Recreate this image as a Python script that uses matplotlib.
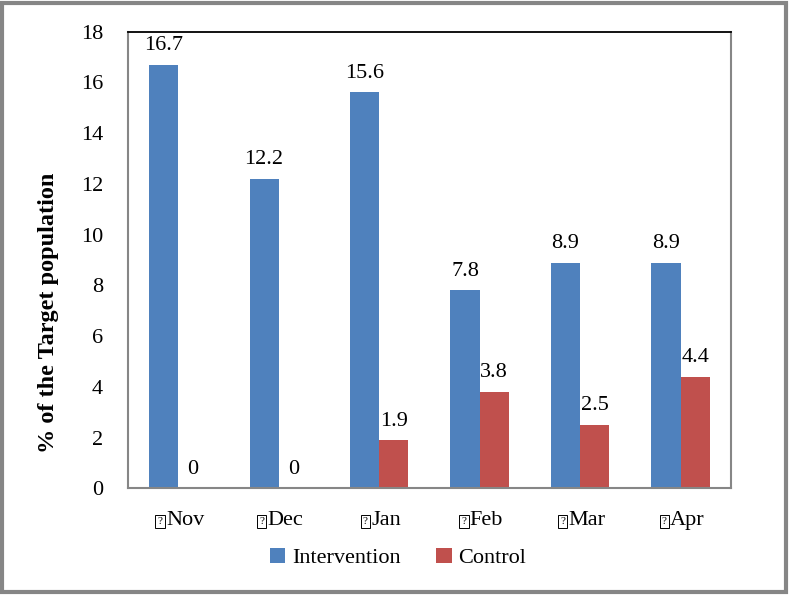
import matplotlib.pyplot as plt
import numpy as np
from matplotlib.patches import Rectangle

months = ["Nov", "Dec", "Jan", "Feb", "Mar", "Apr"]
intervention = [16.7, 12.2, 15.6, 7.8, 8.9, 8.9]
control = [0, 0, 1.9, 3.8, 2.5, 4.4]
y_ticks = [0, 2, 4, 6, 8, 10, 12, 14, 16, 18]

BLUE = "#4f81bd"
RED = "#c0504d"
GREY = "#868686"

plt.rcParams["font.family"] = ["Liberation Serif", "DejaVu Sans"]

fig = plt.figure(figsize=(7.9, 5.95), dpi=100)
ax = fig.add_axes([0.162, 0.179, 0.763, 0.768])

x = np.arange(len(months))
width = 0.29

ax.bar(x - width / 2, intervention, width, color=BLUE, label="Intervention")
ax.bar(x + width / 2, control, width, color=RED, label="Control")

# value labels above the bars
for xs, vals in [(x - width / 2, intervention), (x + width / 2, control)]:
    for xi, v in zip(xs, vals):
        ax.annotate(f"{v:g}", xy=(xi, v), xytext=(0, 7),
                    textcoords="offset points", ha="center", va="bottom",
                    fontsize=16)

ax.set_xlim(-0.5, len(months) - 0.5)
ax.set_ylim(0, 18)
ax.set_yticks(y_ticks)
ax.set_yticklabels([str(t) for t in y_ticks], fontsize=16)
ax.set_xticks(x)
ax.set_xticklabels([])
ax.tick_params(length=0)
ax.tick_params(axis="y", pad=18)

# month labels, each preceded by the missing-glyph box seen in the original
for xi, m in zip(x, months):
    lab = ax.annotate(m, xy=(xi, 0), xycoords=ax.get_xaxis_transform(),
                      xytext=(5, -23), textcoords="offset points",
                      ha="center", va="center", fontsize=16)
    ax.annotate("?", xy=(0, 0.45), xycoords=lab, xytext=(-2.5, 0),
                textcoords="offset points", ha="right", va="center",
                fontsize=8,
                bbox=dict(boxstyle="square,pad=0.2", fc="none",
                          ec="black", lw=0.7))

ax.spines["top"].set_color("black")
ax.spines["top"].set_linewidth(1.3)
for side in ["left", "right", "bottom"]:
    ax.spines[side].set_color(GREY)
    ax.spines[side].set_linewidth(1.5)

ax.set_ylabel("% of the Target population", fontsize=17.5, fontweight="bold")
ax.yaxis.set_label_coords(-0.115, 0.384)

fig.legend(loc="center", bbox_to_anchor=(0.504, 0.062), ncol=2, frameon=False,
           fontsize=16, handlelength=0.7, handleheight=0.7, handletextpad=0.3,
           columnspacing=1.6)

fig.patches.append(Rectangle((0.003, 0.005), 0.992, 0.99,
                             transform=fig.transFigure, fill=False,
                             edgecolor=GREY, linewidth=3))

fig.savefig("out.png", dpi=100)
